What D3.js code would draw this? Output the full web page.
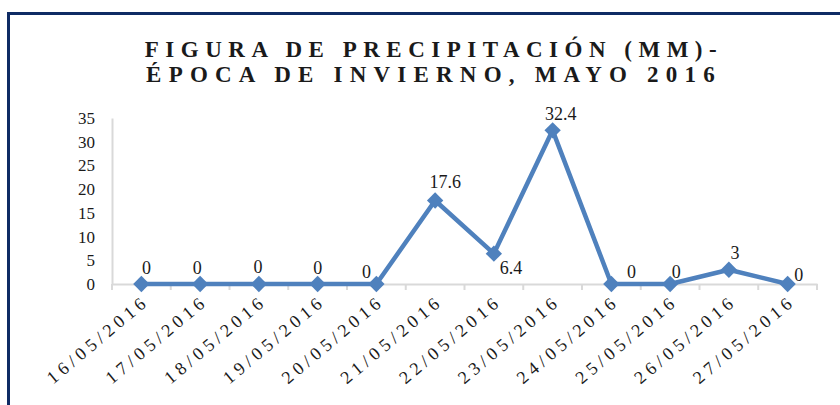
<!DOCTYPE html>
<html>
<head>
<meta charset="utf-8">
<script src="https://cdn.jsdelivr.net/npm/d3@7"></script>
</head>
<body style="margin:0;background:#fff">
<svg id="chart" width="840" height="405" style="display:block"></svg>
<script>
const titleLines = ["FIGURA DE PRECIPITACIÓN (MM)-", "ÉPOCA DE INVIERNO, MAYO 2016"];
const dates = ["16/05/2016","17/05/2016","18/05/2016","19/05/2016","20/05/2016","21/05/2016",
               "22/05/2016","23/05/2016","24/05/2016","25/05/2016","26/05/2016","27/05/2016"];
const precip = [0, 0, 0, 0, 0, 17.6, 6.4, 32.4, 0, 0, 3, 0];
const yTicks = [0, 5, 10, 15, 20, 25, 30, 35];

const FONT = '"Liberation Serif", monospace';
const svg = d3.select("#chart");
const W = 840, H = 405;
const plot = { left: 112, right: 817, top: 118, bottom: 284 };

// border
svg.append("rect").attr("x", 8.5).attr("y", 13.5).attr("width", W + 20).attr("height", H + 20)
  .attr("fill", "none").attr("stroke", "#0f2b64").attr("stroke-width", 3);

// title (letter-spaced)
const titleSpacing = [6.5, 7.2];
titleLines.forEach((t, i) => {
  svg.append("text")
    .attr("x", 434).attr("y", 57 + i * 25)
    .attr("text-anchor", "middle")
    .style("letter-spacing", titleSpacing[i] + "px")
    .style("font-family", FONT)
    .style("font-size", "23px").style("font-weight", "bold").attr("fill", "#1a1a1a")
    .text(t);
});

const x = d3.scaleBand().domain(dates).range([plot.left, plot.right]);
const y = d3.scaleLinear().domain([0, 35]).range([plot.bottom, plot.top]);

// y axis
const yAxis = svg.append("g").attr("transform", `translate(${plot.left},0)`)
  .call(d3.axisLeft(y).tickValues(yTicks).tickSize(0).tickPadding(17));
yAxis.attr("font-family", null).attr("font-size", null);
yAxis.select(".domain").attr("stroke", "#d9d9d9").attr("stroke-width", 2);
yAxis.selectAll("text").style("font-size", "17px").attr("fill", "#1a1a1a")
  .style("font-family", FONT);

// x axis
const xAxis = svg.append("g").attr("transform", `translate(0,${plot.bottom})`)
  .call(d3.axisBottom(x).tickSize(0).tickFormat(""));
xAxis.select(".domain").attr("stroke", "#d9d9d9").attr("stroke-width", 2);
// tick marks at category boundaries
svg.append("g").selectAll("line").data(d3.range(dates.length + 1)).join("line")
  .attr("x1", i => plot.left + i * x.step()).attr("x2", i => plot.left + i * x.step())
  .attr("y1", plot.bottom).attr("y2", plot.bottom + 6)
  .attr("stroke", "#d9d9d9").attr("stroke-width", 2);

// x labels
svg.append("g").selectAll("text").data(dates).join("text")
  .attr("transform", d => `translate(${x(d) + x.bandwidth() / 2 + 9},${plot.bottom + 19}) rotate(-40)`)
  .attr("text-anchor", "end")
  .style("letter-spacing", "4.5px")
  .style("font-family", FONT)
  .style("font-size", "18px").attr("fill", "#1a1a1a")
  .text(d => d);

// line
const cx = d => x(d) + x.bandwidth() / 2;
const pts = dates.map((d, i) => [cx(d), y(precip[i])]);
svg.append("path").attr("d", d3.line()(pts))
  .attr("fill", "none").attr("stroke", "#4f81bd").attr("stroke-width", 4.5)
  .attr("stroke-linejoin", "round");

// markers
svg.append("g").selectAll("path").data(pts).join("path")
  .attr("d", d3.symbol().type(d3.symbolDiamond2).size(170)())
  .attr("transform", p => `translate(${p[0]},${p[1]})`)
  .attr("fill", "#4f81bd");

// data labels
const labelOffsets = [[5,-16],[-3,-16],[-1,-17],[0,-16],[-10,-12],[10,-19],[17,14],[8,-16],[20,-12],[6,-12],[6,-17],[11,-9]];
svg.append("g").selectAll("text").data(precip).join("text")
  .attr("x", (v, i) => pts[i][0] + labelOffsets[i][0])
  .attr("y", (v, i) => pts[i][1] + labelOffsets[i][1])
  .attr("text-anchor", "middle").attr("dominant-baseline", "central")
  .style("font-family", FONT)
  .style("font-size", "18px").attr("fill", "#1a1a1a")
  .text(v => String(v));
</script>
</body>
</html>
